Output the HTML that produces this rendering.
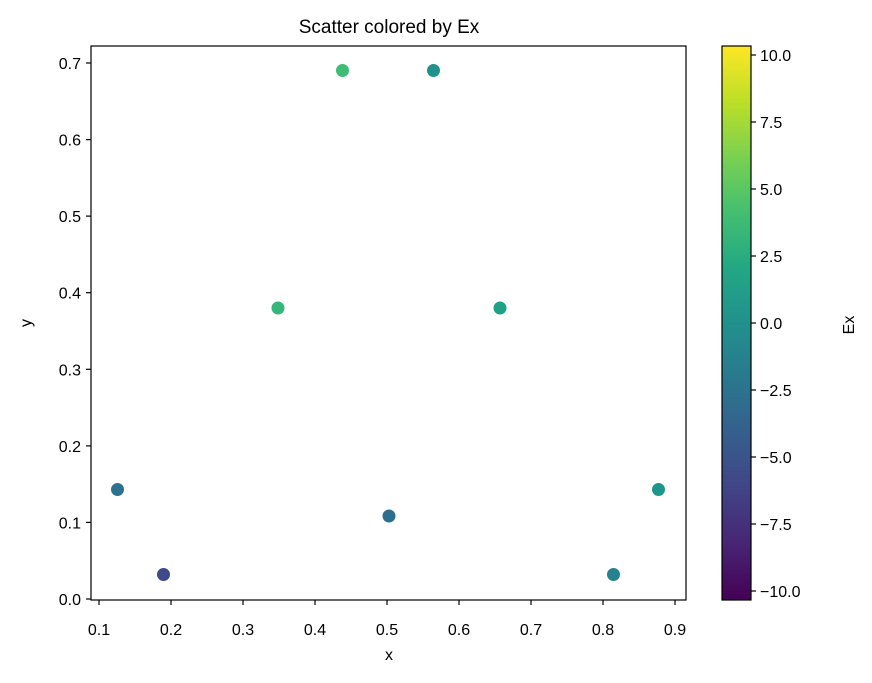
<!DOCTYPE html>
<html><head><meta charset="utf-8"><style>body{margin:0;background:#fff}</style></head><body>
<svg width="872" height="678" xmlns="http://www.w3.org/2000/svg" font-family="Liberation Sans, DejaVu Sans, sans-serif" font-size="16">
<defs>
<linearGradient id="v" x1="0" y1="1" x2="0" y2="0">
<stop offset="0" stop-color="#440154"/><stop offset="0.1" stop-color="#482475"/><stop offset="0.2" stop-color="#414487"/><stop offset="0.3" stop-color="#355f8d"/><stop offset="0.4" stop-color="#2a788e"/><stop offset="0.5" stop-color="#21918c"/><stop offset="0.6" stop-color="#22a884"/><stop offset="0.7" stop-color="#44bf70"/><stop offset="0.8" stop-color="#7ad151"/><stop offset="0.9" stop-color="#bddf26"/><stop offset="1" stop-color="#fde725"/>
</linearGradient>
</defs>
<rect width="872" height="678" fill="#fff"/>
<text x="389" y="33" text-anchor="middle" font-size="19">Scatter colored by Ex</text>
<g>
<circle cx="117.5" cy="489.5" r="6.5" fill="#2c728e"/>
<circle cx="163.5" cy="574.5" r="6.5" fill="#3e4a89"/>
<circle cx="278" cy="308" r="6.5" fill="#35b779"/>
<circle cx="342.5" cy="70.5" r="6.5" fill="#3dbc74"/>
<circle cx="389" cy="516" r="6.5" fill="#2d6e8e"/>
<circle cx="433.5" cy="70.5" r="6.5" fill="#21918c"/>
<circle cx="500" cy="308" r="6.5" fill="#1fa088"/>
<circle cx="613.5" cy="574.5" r="6.5" fill="#26828e"/>
<circle cx="658.5" cy="489.5" r="6.5" fill="#1f968b"/>
</g>
<rect x="91" y="46" width="595" height="554" fill="none" stroke="#000" stroke-width="1.2"/>
<g stroke="#000" stroke-width="1.2">
<line x1="99" y1="600" x2="99" y2="605"/><line x1="171" y1="600" x2="171" y2="605"/><line x1="243" y1="600" x2="243" y2="605"/><line x1="315" y1="600" x2="315" y2="605"/><line x1="387" y1="600" x2="387" y2="605"/><line x1="459" y1="600" x2="459" y2="605"/><line x1="531" y1="600" x2="531" y2="605"/><line x1="603" y1="600" x2="603" y2="605"/><line x1="675" y1="600" x2="675" y2="605"/>
<line x1="86" y1="599" x2="91" y2="599"/><line x1="86" y1="522.4" x2="91" y2="522.4"/><line x1="86" y1="445.9" x2="91" y2="445.9"/><line x1="86" y1="369.3" x2="91" y2="369.3"/><line x1="86" y1="292.7" x2="91" y2="292.7"/><line x1="86" y1="216.1" x2="91" y2="216.1"/><line x1="86" y1="139.6" x2="91" y2="139.6"/><line x1="86" y1="63" x2="91" y2="63"/>
</g>
<g text-anchor="middle">
<text x="99" y="635">0.1</text><text x="171" y="635">0.2</text><text x="243" y="635">0.3</text><text x="315" y="635">0.4</text><text x="387" y="635">0.5</text><text x="459" y="635">0.6</text><text x="531" y="635">0.7</text><text x="603" y="635">0.8</text><text x="675" y="635">0.9</text>
<text x="389" y="660">x</text>
</g>
<g text-anchor="end">
<text x="81" y="605">0.0</text><text x="81" y="528.4">0.1</text><text x="81" y="451.9">0.2</text><text x="81" y="375.3">0.3</text><text x="81" y="298.7">0.4</text><text x="81" y="222.1">0.5</text><text x="81" y="145.6">0.6</text><text x="81" y="69">0.7</text>
</g>
<text x="31" y="323" text-anchor="middle" transform="rotate(-90 31 323)">y</text>
<rect x="722" y="46" width="29" height="554" fill="url(#v)" stroke="#000" stroke-width="1.2"/>
<g stroke="#000" stroke-width="1.2">
<line x1="751" y1="55" x2="756" y2="55"/><line x1="751" y1="122" x2="756" y2="122"/><line x1="751" y1="189" x2="756" y2="189"/><line x1="751" y1="256" x2="756" y2="256"/><line x1="751" y1="323" x2="756" y2="323"/><line x1="751" y1="390" x2="756" y2="390"/><line x1="751" y1="457" x2="756" y2="457"/><line x1="751" y1="524" x2="756" y2="524"/><line x1="751" y1="591" x2="756" y2="591"/>
</g>
<g>
<text x="760" y="61">10.0</text><text x="760" y="128">7.5</text><text x="760" y="195">5.0</text><text x="760" y="262">2.5</text><text x="760" y="329">0.0</text><text x="760" y="396">−2.5</text><text x="760" y="463">−5.0</text><text x="760" y="530">−7.5</text><text x="760" y="597">−10.0</text>
</g>
<text x="854" y="325" text-anchor="middle" transform="rotate(-90 854 325)">Ex</text>
</svg>
</body></html>
